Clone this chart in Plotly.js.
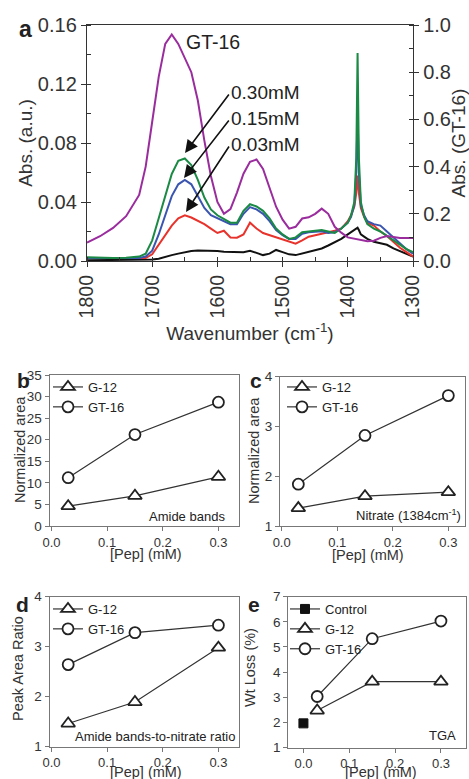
<!DOCTYPE html>
<html>
<head>
<meta charset="utf-8">
<script src="https://cdn.plot.ly/plotly-3.0.1.min.js"></script>
<style>html,body{margin:0;padding:0;background:#fff;}#chart{width:469px;height:779px;}</style>
</head>
<body>
<div id="chart"></div>
<script>
// ---------- Panel a: FTIR spectra ----------
const wavenumber = [1800,1780,1760,1740,1720,1710,1700,1690,1680,1670,1660,1650,1640,1630,1620,1610,1600,1590,1580,1570,1560,1550,1540,1530,1520,1510,1500,1490,1480,1470,1460,1450,1440,1430,1420,1410,1400,1395,1390,1387,1385,1383,1380,1375,1370,1360,1350,1340,1330,1320,1310,1300];
const absGT16 = [0.078,0.105,0.14,0.19,0.28,0.40,0.59,0.78,0.92,0.96,0.92,0.86,0.80,0.68,0.51,0.36,0.25,0.20,0.22,0.29,0.37,0.42,0.43,0.39,0.31,0.23,0.175,0.137,0.145,0.18,0.185,0.20,0.222,0.20,0.145,0.12,0.10,0.097,0.094,0.092,0.09,0.09,0.088,0.086,0.084,0.086,0.098,0.106,0.100,0.097,0.097,0.097];
const absControl = [0.0005,0.0005,0.0005,0.0005,0.0005,0.0008,0.001,0.0015,0.003,0.004,0.005,0.006,0.0068,0.0072,0.0072,0.007,0.0068,0.0062,0.006,0.0058,0.006,0.007,0.0055,0.004,0.005,0.0075,0.006,0.0045,0.004,0.005,0.0065,0.0072,0.0085,0.0105,0.0125,0.015,0.018,0.0195,0.0205,0.0215,0.0226,0.021,0.018,0.0165,0.015,0.013,0.012,0.011,0.0085,0.0065,0.0045,0.003];
const abs003 = [0.002,0.002,0.0018,0.0018,0.0018,0.002,0.0045,0.011,0.018,0.024,0.029,0.031,0.0295,0.0275,0.025,0.022,0.019,0.0205,0.016,0.0158,0.018,0.026,0.022,0.019,0.0175,0.0162,0.015,0.013,0.0118,0.014,0.0165,0.0175,0.0185,0.019,0.0205,0.022,0.027,0.031,0.037,0.046,0.058,0.046,0.036,0.030,0.026,0.024,0.020,0.017,0.013,0.009,0.006,0.003];
const abs015 = [0.002,0.002,0.002,0.002,0.002,0.003,0.007,0.018,0.031,0.044,0.052,0.055,0.052,0.044,0.036,0.031,0.029,0.027,0.025,0.025,0.032,0.0365,0.035,0.032,0.027,0.021,0.0175,0.015,0.015,0.0185,0.0195,0.0198,0.0202,0.019,0.0195,0.022,0.026,0.030,0.038,0.060,0.100,0.060,0.038,0.031,0.027,0.025,0.024,0.020,0.016,0.012,0.008,0.005];
const abs030 = [0.0025,0.0022,0.002,0.0022,0.003,0.005,0.014,0.029,0.044,0.059,0.068,0.0695,0.065,0.055,0.043,0.035,0.031,0.0285,0.026,0.026,0.034,0.0385,0.037,0.034,0.029,0.022,0.018,0.015,0.016,0.0195,0.020,0.0205,0.021,0.020,0.019,0.022,0.026,0.031,0.040,0.070,0.141,0.070,0.040,0.030,0.025,0.022,0.020,0.017,0.014,0.011,0.008,0.006];

// ---------- Panels b-e ----------
const pep = [0.03, 0.15, 0.30];
const amideG12 = [4.6, 7.0, 11.4];
const amideGT16 = [11.2, 21.2, 28.7];
const nitrateG12 = [1.36, 1.60, 1.68];
const nitrateGT16 = [1.84, 2.82, 3.62];
const ratioG12 = [1.46, 1.89, 2.98];
const ratioGT16 = [2.64, 3.28, 3.43];
const controlPep = [0.0];
const wtLossControl = [1.96];
const wtLossG12 = [2.47, 3.62, 3.62];
const wtLossGT16 = [3.03, 5.33, 6.03];

const F = 'Liberation Sans, Arial, sans-serif';
const W = 469, H = 779;
const px = v => v / W;
const py = v => 1 - v / H;

const specLine = (x, y, color, yaxis, name) => ({
  type: 'scatter', mode: 'lines', x: x, y: y, name: name,
  xaxis: 'x', yaxis: yaxis, showlegend: false, hoverinfo: 'skip',
  line: {color: color, width: 2}
});

const tri = {symbol: 'triangle-up', size: 12, color: '#fff', line: {color: '#222', width: 1.8}};
const circ = {symbol: 'circle', size: 11, color: '#fff', line: {color: '#222', width: 1.8}};
const sq = {symbol: 'square', size: 9, color: '#111', line: {color: '#111', width: 1}};
const pline = {color: '#333', width: 1.2};

const pt = (x, y, xa, ya, name, marker, legend) => ({
  type: 'scatter', mode: 'lines+markers', x: x, y: y, name: name,
  xaxis: xa, yaxis: ya, marker: marker, line: pline, legend: legend, showlegend: true
});

const data = [
  specLine(wavenumber, absGT16, '#9a2c9e', 'y2', 'GT-16'),
  specLine(wavenumber, absControl, '#111111', 'y', 'Control'),
  specLine(wavenumber, abs003, '#e8332c', 'y', '0.03mM'),
  specLine(wavenumber, abs015, '#3a55b0', 'y', '0.15mM'),
  specLine(wavenumber, abs030, '#1a8a45', 'y', '0.30mM'),
  pt(pep, amideG12, 'x2', 'y3', 'G-12', tri, 'legend'),
  pt(pep, amideGT16, 'x2', 'y3', 'GT-16', circ, 'legend'),
  pt(pep, nitrateG12, 'x3', 'y4', 'G-12', tri, 'legend2'),
  pt(pep, nitrateGT16, 'x3', 'y4', 'GT-16', circ, 'legend2'),
  pt(pep, ratioG12, 'x4', 'y5', 'G-12', tri, 'legend3'),
  pt(pep, ratioGT16, 'x4', 'y5', 'GT-16', circ, 'legend3'),
  pt(controlPep, wtLossControl, 'x5', 'y6', 'Control', sq, 'legend4'),
  pt(pep, wtLossG12, 'x5', 'y6', 'G-12', tri, 'legend4'),
  pt(pep, wtLossGT16, 'x5', 'y6', 'GT-16', circ, 'legend4')
];

const smallX = (dom, anchor, range) => ({
  domain: dom, anchor: anchor, range: range, dtick: 0.1, tick0: 0, tickformat: '.1f',
  showline: true, mirror: true, linecolor: '#777', linewidth: 1,
  ticks: 'outside', ticklen: 4, tickcolor: '#777',
  showgrid: false, zeroline: false,
  tickfont: {size: 13, family: F, color: '#333'}
});
const smallY = (dom, anchor, range, dtick) => ({
  domain: dom, anchor: anchor, range: range, dtick: dtick,
  showline: true, mirror: true, linecolor: '#777', linewidth: 1,
  ticks: 'outside', ticklen: 4, tickcolor: '#777', showgrid: false, zeroline: false,
  tickfont: {size: 13.5, family: F, color: '#333'}
});

const legendBox = (x, y) => ({
  x: px(x), y: py(y), xanchor: 'left', yanchor: 'top',
  bgcolor: 'rgba(0,0,0,0)', borderwidth: 0,
  font: {size: 13, family: F, color: '#222'}, itemwidth: 30, tracegroupgap: 0
});

const ann = (x, y, text, size, opts) => Object.assign({
  xref: 'paper', yref: 'paper', x: px(x), y: py(y), text: text, showarrow: false,
  font: {size: size, family: F, color: '#222'}, xanchor: 'left', yanchor: 'middle'
}, opts || {});
const xTitle = (x, y) => ann(x, y, '[Pep] (mM)', 14.5, {xanchor: 'center', font: {size: 14.5, family: F, color: '#333'}});
const yTitle = (x, y, t) => ann(x, y, t, 14.5, {xanchor: 'center', textangle: -90, font: {size: 14.5, family: F, color: '#333'}});

const arrow = (hx, hy, tx, ty) => ({
  xref: 'paper', yref: 'paper', x: px(hx), y: py(hy), ax: tx - hx, ay: ty - hy,
  text: '', showarrow: true, arrowhead: 2, arrowsize: 1.6, arrowwidth: 1.6, arrowcolor: '#111'
});

const layout = {
  width: W, height: H, margin: {l: 0, r: 0, t: 0, b: 0},
  paper_bgcolor: '#fff', plot_bgcolor: '#fff',
  font: {family: F, color: '#222'},
  showlegend: true,
  xaxis: {
    domain: [px(87), px(413)], anchor: 'y', range: [1800, 1300], dtick: 100, tick0: 1300,
    showline: true, mirror: true, linecolor: '#333', linewidth: 1.2,
    ticks: 'outside', ticklen: 5, tickcolor: '#333', tickangle: -90,
    minor: {ticks: 'inside', dtick: 50, ticklen: 4, tickcolor: '#333'},
    showgrid: false, zeroline: false,
    tickfont: {size: 19.5, family: F, color: '#333'},
    title: {text: 'Wavenumber (cm<sup>-1</sup>)', font: {size: 19, family: F, color: '#333'}}
  },
  yaxis: {
    domain: [py(261), py(25)], anchor: 'x', range: [0, 0.16], dtick: 0.04, tickformat: '.2f',
    showline: true, mirror: true, linecolor: '#333', linewidth: 1.2,
    ticks: 'outside', ticklen: 5, tickcolor: '#333',
    minor: {ticks: 'inside', dtick: 0.02, ticklen: 4, tickcolor: '#333'},
    showgrid: false, zeroline: false,
    tickfont: {size: 20, family: F, color: '#333'},
    title: {text: 'Abs. (a.u.)', font: {size: 19, family: F, color: '#333'}}
  },
  yaxis2: {
    overlaying: 'y', side: 'right', anchor: 'x', range: [0, 1], dtick: 0.2, tickformat: '.1f',
    showline: true, linecolor: '#333', linewidth: 1.2,
    ticks: 'outside', ticklen: 5, tickcolor: '#333',
    minor: {ticks: 'inside', dtick: 0.1, ticklen: 4, tickcolor: '#333'},
    showgrid: false, zeroline: false,
    tickfont: {size: 20, family: F, color: '#333'},
    title: {text: 'Abs. (GT-16)', font: {size: 19, family: F, color: '#333'}}
  },
  xaxis2: smallX([px(49.5), px(239)], 'y3', [-0.0036, 0.337]),
  yaxis3: smallY([py(526), py(375)], 'x2', [0, 35], 5),
  xaxis3: smallX([px(280), px(465)], 'y4', [-0.003, 0.33]),
  yaxis4: smallY([py(526), py(376.7)], 'x3', [1, 4], 1),
  xaxis4: smallX([px(49.5), px(239)], 'y5', [-0.0036, 0.337]),
  yaxis5: smallY([py(746.5), py(596.7)], 'x4', [1, 4], 1),
  xaxis5: smallX([px(288.3), px(465.7)], 'y6', [-0.033, 0.354]),
  yaxis6: smallY([py(747.5), py(596.7)], 'x5', [1, 7], 1),
  legend: legendBox(48, 372),
  legend2: legendBox(282, 372),
  legend3: legendBox(48, 594),
  legend4: legendBox(285, 594),
  annotations: [
    ann(17, 29, '<b>a</b>', 23),
    ann(15, 381, '<b>b</b>', 21),
    ann(248, 381, '<b>c</b>', 21),
    ann(14, 604, '<b>d</b>', 21),
    ann(246, 604, '<b>e</b>', 21),
    ann(184, 42, 'GT-16', 19.5),
    ann(229, 93, '0.30mM', 19),
    ann(229, 119, '0.15mM', 19),
    ann(229, 145, '0.03mM', 19),
    arrow(185, 153, 230, 93),
    arrow(184, 178, 230, 119),
    arrow(186, 212, 230, 145),
    ann(227, 516, 'Amide bands', 13, {xanchor: 'right'}),
    ann(463, 515, 'Nitrate (1384cm<sup>-1</sup>)', 13, {xanchor: 'right'}),
    ann(237, 736, 'Amide bands-to-nitrate ratio', 13, {xanchor: 'right'}),
    ann(458, 735, 'TGA', 13, {xanchor: 'right'}),
    xTitle(146, 553.5),
    xTitle(368, 555),
    xTitle(146, 771.5),
    xTitle(381, 771.5),
    yTitle(20, 450, 'Normalized area'),
    yTitle(254, 451, 'Normalized area'),
    yTitle(18, 669, 'Peak Area Ratio'),
    yTitle(250, 668, 'Wt Loss (%)')
  ]
};

Plotly.newPlot('chart', data, layout, {displayModeBar: false, staticPlot: true});
</script>
</body>
</html>
